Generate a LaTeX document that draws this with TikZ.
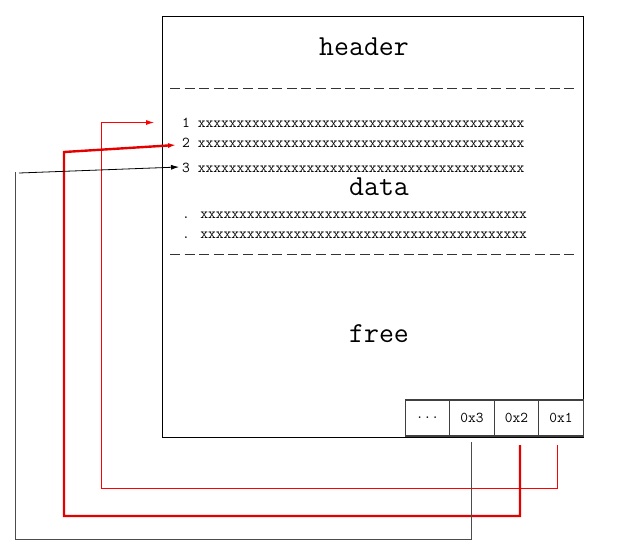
\documentclass[tikz,border=0pt]{standalone}
\usetikzlibrary{arrows.meta,positioning}
\begin{document}
\begin{tikzpicture}[x=1pt,y=-1pt,
  bigtext/.style={font=\ttfamily\fontsize{29}{29}\selectfont,inner sep=0pt},
  rowtext/.style={font=\ttfamily\fontsize{15.1}{15}\selectfont,inner sep=0pt,anchor=base west},
  cell/.style={draw=black!75,line width=1.2pt,minimum width=44.5pt,minimum height=36pt,
    inner sep=0pt,outer sep=0pt,font=\ttfamily\fontsize{15}{15}\selectfont},
  sep/.style={dash pattern=on 10pt off 4.6pt,line width=0.8pt,black!80},
  link/.style={-{Latex[length=8pt,width=5pt]}}]
\useasboundingbox (0,0) rectangle (635,550);
% memory block
\node[draw,line width=0.8pt,minimum width=421pt,minimum height=421pt,inner sep=0pt] (mem) at (372.5,226.5) {};
\node[bigtext] (hdr) at (364,47) {header};
\draw[sep] (170,88) -- (578,88);
\node[rowtext] (l1) at (182,127.3) {1 xxxxxxxxxxxxxxxxxxxxxxxxxxxxxxxxxxxxxxxxxx};
\node[rowtext] (l2) at (182,147.3) {2 xxxxxxxxxxxxxxxxxxxxxxxxxxxxxxxxxxxxxxxxxx};
\node[rowtext] (l3) at (182,172.3) {3 xxxxxxxxxxxxxxxxxxxxxxxxxxxxxxxxxxxxxxxxxx};
\node[bigtext] (dat) at (379,187) {data};
\node[rowtext] (l4) at (182,218.3) {. xxxxxxxxxxxxxxxxxxxxxxxxxxxxxxxxxxxxxxxxxx};
\node[rowtext] (l5) at (182,238.3) {. xxxxxxxxxxxxxxxxxxxxxxxxxxxxxxxxxxxxxxxxxx};
\draw[sep] (170,254) -- (578,254);
\node[bigtext] (fre) at (379,334) {free};
% slot table
\node[cell] (c1) at (561,418) {0x1};
\node[cell,left=0pt of c1] (c2) {0x2};
\node[cell,left=0pt of c2] (c3) {0x3};
\node[cell,left=0pt of c3] (c0) {...};
% corners and tips
\coordinate (k1) at (101,488);
\coordinate (a1) at (154,122.5);
\coordinate (k2) at (64,516);
\coordinate (m2) at (64,152);
\coordinate (a2) at (176,145);
\coordinate (k3) at (15,539);
\coordinate (m3) at (15,172);
\coordinate (s3) at (19,173);
\coordinate (a3) at (179,167);
% pointers
\draw[link,red,line width=0.8pt] ([xshift=-4pt,yshift=-9pt]c1.south) |- (k1) |- (a1);
\draw[link,red!90!black,line width=2.4pt] ([xshift=3.5pt,yshift=-9pt]c2.south) |- (k2) -- (m2) -- (a2);
\draw[black!70,line width=1pt] ([xshift=-1pt,yshift=-6pt]c3.south) |- (k3) -- (m3);
\draw[link,line width=0.8pt] (s3) -- (a3);
\end{tikzpicture}
\end{document}
